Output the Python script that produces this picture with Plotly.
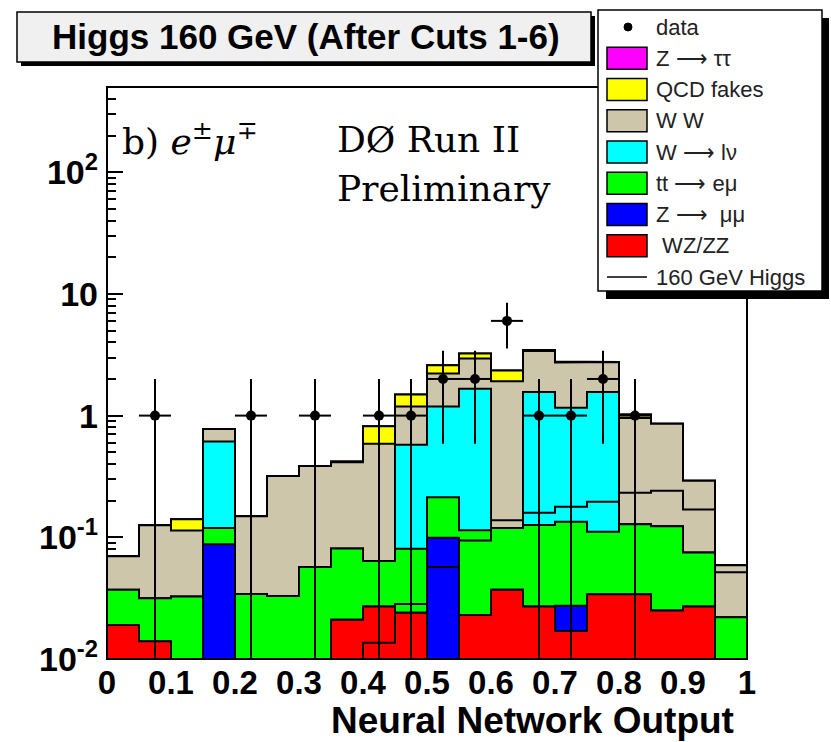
import numpy as np
import plotly.graph_objects as go

# ---------------- data ----------------
bin_edges = [0.0, 0.05, 0.1, 0.15, 0.2, 0.25, 0.3, 0.35, 0.4, 0.45, 0.5,
             0.55, 0.6, 0.65, 0.7, 0.75, 0.8, 0.85, 0.9, 0.95, 1.0]

# backgrounds (events per bin), stacked bottom -> top
wz_zz = [0.019, 0.014, 0.0, 0.0, 0.0, 0.0, 0.0, 0.021, 0.027, 0.024,
         0.0, 0.023, 0.037, 0.027, 0.017, 0.034, 0.034, 0.025, 0.027, 0.0]
z_mumu = [0.0, 0.0, 0.0, 0.0875, 0.0, 0.0, 0.0, 0.0, 0.0, 0.0,
          0.099, 0.0, 0.0, 0.0, 0.0104, 0.0, 0.0, 0.0, 0.0, 0.0]
tt_emu = [0.018, 0.0175, 0.0327, 0.0315, 0.0342, 0.033, 0.057, 0.060, 0.037, 0.0565,
          0.114, 0.091, 0.082, 0.099, 0.107, 0.077, 0.094, 0.098, 0.048, 0.022]
w_lnu = [0.0, 0.0, 0.0, 0.494, 0.0, 0.0, 0.0, 0.0, 0.0, 0.495,
         0.977, 1.546, 0.0, 1.434, 1.026, 1.449, 0.0, 0.0, 0.0, 0.0]
ww = [0.033, 0.094, 0.081, 0.163, 0.115, 0.286, 0.329, 0.333, 0.523, 0.614,
      1.03, 1.28, 1.80, 1.84, 1.57, 1.20, 0.829, 0.736, 0.216, 0.037]
qcd_fakes = [0.0, 0.0, 0.027, 0.0, 0.0, 0.0, 0.0, 0.0, 0.23, 0.30,
             0.37, 0.30, 0.43, 0.0, 0.0, 0.0, 0.063, 0.0, 0.0, 0.0]
z_tautau = [0.0, 0.0, 0.0, 0.0, 0.0, 0.0, 0.0, 0.008, 0.0, 0.0,
            0.0, 0.0, 0.0, 0.06, 0.05, 0.0, 0.0, 0.0, 0.0, 0.0]

# 160 GeV Higgs signal (not stacked)
higgs_160 = [0.001, 0.001, 0.002, 0.002, 0.003, 0.003, 0.004, 0.006, 0.0136, 0.0283,
             0.057, 0.094, 0.138, 0.159, 0.178, 0.196, 0.232, 0.241, 0.169, 0.0517]

# observed events per bin
data_counts = [0, 1, 0, 0, 1, 0, 1, 0, 1, 1,
               2, 2, 6, 1, 1, 2, 1, 0, 0, 0]

layer_names = ["WZ/ZZ", "Z → μμ", "tt → eμ", "W → lν", "W W", "QCD fakes", "Z → ττ"]
layer_values = [wz_zz, z_mumu, tt_emu, w_lnu, ww, qcd_fakes, z_tautau]
layer_colors = ["#ff0000", "#0000ff", "#00ff00", "#00ffff", "#cdc6aa", "#ffff00", "#ff00ff"]

legend_labels = ["data", "Z ⟶ ττ", "QCD fakes", "W W", "W ⟶ lν", "tt ⟶ eμ",
                 "Z ⟶  μμ", " WZ/ZZ", "160 GeV Higgs"]
legend_kinds = ["marker", "box", "box", "box", "box", "box", "box", "box", "line"]
legend_colors = [None, "#ff00ff", "#ffff00", "#cdc6aa", "#00ffff", "#00ff00",
                 "#0000ff", "#ff0000", None]

y_major = [0.01, 0.1, 1, 10, 100]
y_major_text = ["10<sup>-2</sup>", "10<sup>-1</sup>", "1", "10", "10<sup>2</sup>"]
x_ticks = [0, 0.1, 0.2, 0.3, 0.4, 0.5, 0.6, 0.7, 0.8, 0.9, 1.0]
x_tick_text = ["0", "0.1", "0.2", "0.3", "0.4", "0.5", "0.6", "0.7", "0.8", "0.9", "1"]

# ---------------- helpers ----------------
edges = np.array(bin_edges)
centers = 0.5 * (edges[:-1] + edges[1:])
half_w = 0.5 * (edges[1] - edges[0])
FLOOR = 1e-4  # below visible range on the log axis


def step_xy(vals):
    xs, ys = [], []
    for i, v in enumerate(vals):
        v = max(v, FLOOR)
        xs += [edges[i], edges[i + 1]]
        ys += [v, v]
    return xs, ys


fig = go.Figure()

cum = np.cumsum(np.array(layer_values, dtype=float), axis=0)
# draw from top of stack to bottom
for k in range(len(layer_values) - 1, -1, -1):
    xs, ys = step_xy(cum[k])
    xs = xs + [edges[-1], edges[0]]
    ys = ys + [FLOOR, FLOOR]
    fig.add_trace(go.Scatter(x=xs, y=ys, mode="lines", fill="toself",
                             fillcolor=layer_colors[k],
                             line=dict(color="black", width=2),
                             name=layer_names[k], showlegend=False,
                             hoverinfo="skip"))

# Higgs line
hx, hy = step_xy(higgs_160)
fig.add_trace(go.Scatter(x=hx, y=hy, mode="lines",
                         line=dict(color="black", width=2),
                         showlegend=False, hoverinfo="skip"))

# data with errors
n = np.array(data_counts, dtype=float)
sel = n > 0
nd = n[sel]
err = np.sqrt(nd)
low = np.maximum(nd - err, 0.005)
fig.add_trace(go.Scatter(
    x=centers[sel], y=nd, mode="markers",
    marker=dict(color="black", size=10),
    error_y=dict(type="data", array=err, arrayminus=nd - low,
                 color="black", thickness=2, width=0),
    error_x=dict(type="constant", value=half_w, color="black", thickness=2, width=0),
    showlegend=False, hoverinfo="skip"))

# ---------------- layout ----------------
W, H = 831, 742
ML, MR, MT, MB = 107, 84, 87, 83
PW, PH = W - ML - MR, H - MT - MB


def px(x):
    return (x - ML) / PW


def py(y):
    return (H - MB - y) / PH


minor_vals = []
for dec in [0.01, 0.1, 1, 10, 100]:
    for m in range(2, 10):
        minor_vals.append(dec * m)

label_font = dict(family="Liberation Sans", size=33, color="black", weight="bold")

fig.update_layout(
    width=W, height=H,
    margin=dict(l=ML, r=MR, t=MT, b=MB),
    paper_bgcolor="white", plot_bgcolor="white",
    showlegend=False,
    xaxis=dict(range=[0, 1], tickmode="array", tickvals=x_ticks, ticktext=x_tick_text,
               ticks="", showgrid=False, zeroline=False, showline=False,
               tickfont=label_font, ticklabelstandoff=1, layer="below traces"),
    yaxis=dict(type="log", range=[-2, 2.7], tickmode="array", tickvals=y_major,
               ticktext=y_major_text, ticks="inside", ticklen=16, tickwidth=2,
               tickcolor="black", showgrid=False, zeroline=False, showline=False,
               minor=dict(tickvals=minor_vals, ticks="inside", ticklen=9,
                          tickwidth=1.5, tickcolor="black", showgrid=False),
               tickfont=dict(family="Liberation Sans", size=34, color="black",
                             weight="bold"),
               ticklabelstandoff=8, layer="below traces"),
)

shapes = []
annotations = []

# frame
shapes.append(dict(type="rect", xref="paper", yref="paper", x0=0, x1=1, y0=0, y1=1,
                   line=dict(color="black", width=2), fillcolor="rgba(0,0,0,0)",
                   layer="above"))

# title box
shapes.append(dict(type="rect", xref="paper", yref="paper",
                   x0=px(21), x1=px(595), y0=py(66), y1=py(16),
                   line=dict(width=0), fillcolor="black", layer="above"))
shapes.append(dict(type="rect", xref="paper", yref="paper",
                   x0=px(17), x1=px(591), y0=py(62), y1=py(12),
                   line=dict(color="black", width=1.5), fillcolor="#f0f0f0", layer="above"))
annotations.append(dict(text="Higgs 160 GeV (After Cuts 1-6)", xref="paper", yref="paper",
                        x=px(306), y=py(37), xanchor="center", yanchor="middle",
                        showarrow=False,
                        font=dict(family="Liberation Sans", size=35, color="black",
                                  weight="bold")))

# legend box
LX0, LX1, LY0, LY1 = 598, 822, 10, 291
shapes.append(dict(type="rect", xref="paper", yref="paper",
                   x0=px(LX0 + 8), x1=px(LX1 + 7), y0=py(LY1 + 8), y1=py(LY0 + 8),
                   line=dict(width=0), fillcolor="black", layer="above"))
shapes.append(dict(type="rect", xref="paper", yref="paper",
                   x0=px(LX0), x1=px(LX1), y0=py(LY1), y1=py(LY0),
                   line=dict(color="black", width=1.5), fillcolor="white", layer="above"))
row0, drow = 27, 31.25
for i, (lab, kind, col) in enumerate(zip(legend_labels, legend_kinds, legend_colors)):
    yc = row0 + i * drow
    if kind == "box":
        shapes.append(dict(type="rect", xref="paper", yref="paper",
                           x0=px(607), x1=px(647), y0=py(yc + 11), y1=py(yc - 11),
                           line=dict(color="black", width=1.5), fillcolor=col,
                           layer="above"))
    elif kind == "line":
        shapes.append(dict(type="line", xref="paper", yref="paper",
                           x0=px(607), x1=px(647), y0=py(yc), y1=py(yc),
                           line=dict(color="black", width=1.5), layer="above"))
    else:
        shapes.append(dict(type="circle", xref="paper", yref="paper",
                           x0=px(624), x1=px(632), y0=py(yc + 4), y1=py(yc - 4),
                           line=dict(color="black", width=1), fillcolor="black",
                           layer="above"))
    annotations.append(dict(text=lab.replace(" ", "&nbsp;"),
                            xref="paper", yref="paper", x=px(654), y=py(yc),
                            xanchor="left", yanchor="middle", showarrow=False,
                            font=dict(family="Liberation Sans", size=22, color="#222222")))

# in-plot labels
serif = dict(family="DejaVu Serif", size=36, color="black")
annotations.append(dict(text="b)&nbsp;<i>e</i><sup>±</sup><i>μ</i><sup>∓</sup>",
                        xref="paper", yref="paper", x=px(120), y=py(139),
                        xanchor="left", yanchor="middle", showarrow=False, font=serif))
annotations.append(dict(text="DØ Run II", xref="paper", yref="paper", x=px(335), y=py(139),
                        xanchor="left", yanchor="middle", showarrow=False, font=serif))
annotations.append(dict(text="Preliminary", xref="paper", yref="paper", x=px(335), y=py(188),
                        xanchor="left", yanchor="middle", showarrow=False, font=serif))

# x-axis title
annotations.append(dict(text="Neural Network Output", xref="paper", yref="paper",
                        x=px(736), y=py(720), xanchor="right", yanchor="middle",
                        showarrow=False,
                        font=dict(family="Liberation Sans", size=37, color="black",
                                  weight="bold")))

fig.update_layout(shapes=shapes, annotations=annotations)

fig.write_html("out.html")
